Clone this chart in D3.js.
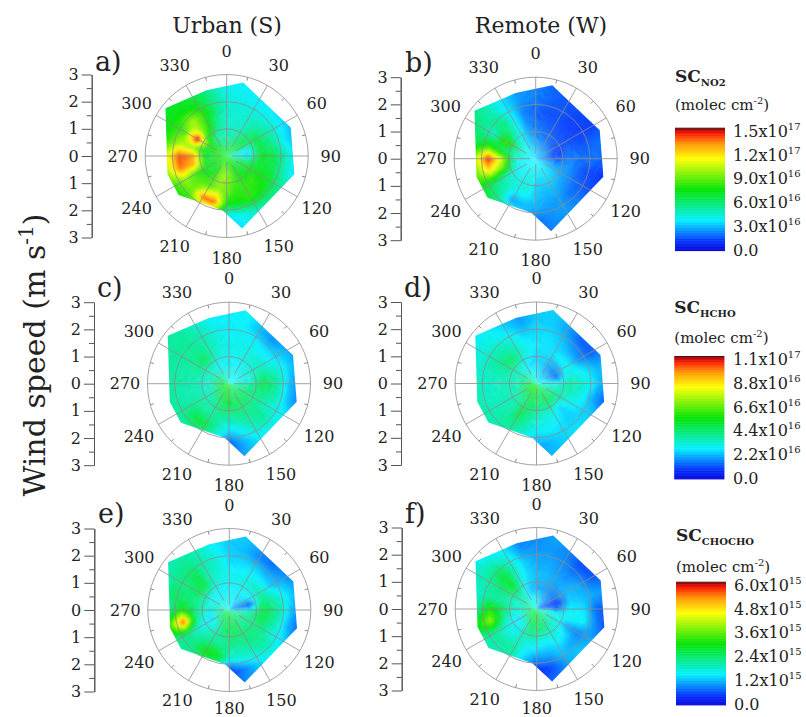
<!DOCTYPE html>
<html lang="en">
<head>
<meta charset="UTF-8">
<title>Slant columns by wind speed and direction</title>
<script src="https://d3js.org/d3.v7.min.js"></script>
<style>
  html, body { margin: 0; padding: 0; background: #fff; }
  svg { display: block; }
  text { font-family: "DejaVu Serif", serif; fill: #222; }
  .axis path, .axis line { stroke: #555; stroke-width: 1; }
  .axis text { font-family: "DejaVu Serif", serif; font-size: 16px; fill: #222; }
</style>
</head>
<body>
<svg id="chart" width="806" height="717"></svg>
<script>
// wind direction of each column and wind speed of each row in the tables below
const dirs = d3.range(0, 360, 15)
const speeds = [0.25, 0.75, 1.25, 1.75, 2.25, 2.75]

// outline of the sampled area: direction (deg), speed (m/s)
const hullDirs = [12.7, 66, 105, 168, 184.6, 231, 253, 308, 343]
const hullSpeeds = [2.77, 2.58, 2.58, 2.73, 2.0, 2.28, 2.28, 2.86, 2.53]

const spokeDirs = d3.range(0, 360, 30)
const minorDirs = d3.range(15, 360, 30)
const ringSpeeds = [1, 2, 3]

// NO2, units of 1e16 molec cm-2
const no2Urban = [
  [6.5,6.5,6.5,6.5,6,5,4.5,5.5,6.5,7,7.5,7.5,8,8,8,7.5,7.5,7.5,7.5,8,7.5,7,7,6.5],
  [5,5,5.5,6.5,6,3.5,3.5,6,7,7,7.5,8.5,9.5,9.5,8,7,7,7,6.5,7,7.5,7,5.5,5],
  [4.5,4.5,4.6,5.5,6.5,6.5,7,7,7.5,8,8,8,9,9.5,8.5,8.5,8,12.5,13,9.5,15,9.5,7.5,5.5],
  [4.5,4.4,4.4,4.6,5,5.5,6.5,6.5,7,7.5,8,7.5,7.5,13.5,13.5,9,9.5,13.5,14,10,8.5,10,8,6],
  [4.2,4,3.8,3.8,3.8,3.6,4.5,4.5,5.5,5.5,5,4,3.5,7.5,7.5,7.5,8,10,10.5,8,7.5,7.5,7,5.5],
  [3.8,3.8,3.8,3.2,2.8,2.5,3,3,4,4.5,4,3.6,3,6,7,7,7.5,9,9,7.5,7,7,6.5,5]
]
const no2Remote = [
  [3.3,3,2.8,2.8,2.8,2.5,2.6,3,3.3,3.5,3.7,3.7,3.8,3.8,3.8,3.8,3.8,3.7,3.7,3.8,3.6,3.5,3.5,3.4],
  [2.5,2.2,2,1.8,1.5,1.2,1.5,2.4,3,3.3,3.6,3.4,3.5,4.5,4,3.8,4,4.2,4.5,5,5.5,4.5,3.5,3],
  [2,1.8,1.6,1.5,1.5,1.8,2.2,2.5,2.5,2.7,3,3,3.2,4.2,4.2,4.5,5,9,10.5,6,8.5,5.5,4,2.5],
  [1.8,1.5,1.5,1.3,1.3,1.6,2,1.6,1.8,2,2.6,2.6,3,3,2.7,5,6,11.5,14.5,8,4.5,6,4,2.2],
  [2.2,1.8,1.6,1.4,1.3,1.9,2,1.3,1.5,2.2,2.6,2.4,2,3.5,5,6.2,7,9,10,6.5,5.5,5,3.5,2.5],
  [2.3,1.8,1.8,1.6,1.4,2.2,1.5,1.1,1.7,2.3,2.4,2.2,1.8,3.2,5,6.5,6.8,8.5,7.5,6.5,6,5,3.5,2.5]
]

// HCHO, units of 1e16 molec cm-2
const hchoUrban = [
  [3.2,3,2.8,2.8,2.8,3,3.5,4,4.3,4.5,4.6,4.7,5,5.2,5.2,5,5,4.8,4.8,4.6,4.3,3.8,3.5,3.3],
  [2.8,2.8,2.8,3,3.2,3,3.5,4.2,4.3,4.4,4.5,4.6,4.8,4.8,4.2,3.8,3.6,3.4,3.3,3.4,3.4,3.2,2.9,2.8],
  [3,3,3.1,3.3,3.5,4,4.8,4.2,3.9,4,4.1,4,3.8,3.9,3.8,3.7,3.9,3.6,3.6,3.7,4.1,4.6,3.7,3.2],
  [2.8,2.9,2.9,2.7,2.7,3.5,3.9,3.7,3.2,3.9,3.6,2.9,2.5,3.5,4.8,4.9,3.9,3.6,3.8,3.7,3.9,3.9,3.7,3.2],
  [2.8,2.8,2.2,1.8,2.3,2.5,2.2,2.2,2.8,2.9,2.8,2.1,1.2,2.6,3.5,3.7,3.9,3.9,3.9,3.8,3.9,3.9,3.5,2.9],
  [2.8,2.8,2.5,2,1.8,1.8,1.6,1.5,2.2,2.5,2.4,2.1,1.4,2.4,3.3,3.5,3.7,3.9,3.9,3.9,3.9,3.7,3.2,2.5]
]
const hchoRemote = [
  [3,2.6,2.4,2.4,2.6,2.8,3,3.6,4,4.4,4.6,4.8,5.2,5.2,5.2,5.2,5,5,4.8,4.4,4,3.6,3.3,3.1],
  [2.4,2.4,2.1,1.8,1.5,1.6,3,3.6,4,4.4,4.6,4.2,4.4,4.6,4.2,4,3.6,3.6,3.6,3.5,3.4,3.2,2.8,2.5],
  [2.6,2.6,2.6,2.8,3,3.2,3.8,3.6,3.2,2.4,3,3.2,3.4,4,4.8,3.6,3.6,3.5,3.5,3.6,4.2,4.4,3.6,3],
  [2.6,2.6,2.4,2,1.8,2.8,3.2,3,2.6,2.4,2.6,2.8,2.8,3.4,4,3.8,3.6,3.4,3.4,3.5,3.8,3.6,3.2,2.6],
  [2.4,2.4,2,1.3,1.3,2.2,2.4,1.8,2.4,2.6,2.5,2.2,2,2.8,3.4,3.6,3.6,3.6,3.4,3.3,3.2,3,2.6,2],
  [2.4,2.4,2.1,1.7,1.4,2.2,1.6,1.1,2,2.4,2.4,2.2,1.9,2.6,3.2,3.5,3.6,3.6,3.2,3.1,3,2.8,2.2,1.8]
]

// CHOCHO, units of 1e14 molec cm-2
const chochoUrban = [
  [16,15,14,12,10,8,16,20,22,23,24,25,26,26,26,26,24,22,20,19,18,17,17,16],
  [15,15,15,15,14,6,16,22,22,22,24,25,25,24,20,17,14,14,17,17,16,15,15,15],
  [16,16,17,18,20,23,26,26,23,23,23,22,23,21,21,20,17,22,23,22,25,26,19,17],
  [14,14,14,13,13,19,22,20,18,21,19,18,18,29,30,23,22,56,30,24,23,26,20,18],
  [13,12,9,8,11,14,13,11,14,16,14,9,5,14,20,21,22,34,20,24,22,22,20,16],
  [13,13,11,9,8,10,7,6,10,11,11,10,7,11,18,20,21,22,11,12,19,20,18,14]
]
const chochoRemote = [
  [17,14,12,11,8,6,13,18,20,22,24,25,27,27,27,25,25,23,23,21,19,17,17,17],
  [11,11,10,9,8,4,9,16,18,18,21,23,23,25,19,16,14,15,17,18,20,20,15,12],
  [12,12,11,11,12,13,15,16,11,16,16,15,17,17,19,16,17,21,25,20,24,28,18,14],
  [11,11,10,9,11,12,14,16,9,11,13,11,11,14,21,21,21,38,31,21,22,27,19,13],
  [10,10,9,6,7,11,7,9,11,13,11,6,4,11,18,19,20,30,20,18,20,20,16,10],
  [9,11,10,7,6,10,7,5,10,12,9,8,5,9,16,17,18,19,16,17,18,15,13,8]
]

// colour bar labels
const no2Ticks = [['0.0',''],['3.0','16'],['6.0','16'],['9.0','16'],['1.2','17'],['1.5','17']]
const hchoTicks = [['0.0',''],['2.2','16'],['4.4','16'],['6.6','16'],['8.8','16'],['1.1','17']]
const chochoTicks = [['0.0',''],['1.2','15'],['2.4','15'],['3.6','15'],['4.8','15'],['6.0','15']]

const no2Max = 15, hchoMax = 11, chochoMax = 60

const colourStops = [0, 0.08, 0.25, 0.5, 0.75, 0.87, 0.95, 0.985, 1]
const colourList = ['#0000d8', '#0030ff', '#00f0ff', '#00e400', '#ffff00', '#ff9800', '#ff2000', '#c00000', '#401010']

const panels = [
  {id: 'a', label: 'a)', table: no2Urban, max: no2Max, cx: 226.7, cy: 156, axisX: 91.7, lx: 95, ly: 71, southR: 102},
  {id: 'b', label: 'b)', table: no2Remote, max: no2Max, cx: 535.7, cy: 158.7, axisX: 400.7, lx: 405, ly: 72, southR: 102},
  {id: 'c', label: 'c)', table: hchoUrban, max: hchoMax, cx: 229, cy: 383.7, axisX: 94, lx: 97, ly: 297, southR: 102},
  {id: 'd', label: 'd)', table: hchoRemote, max: hchoMax, cx: 536.5, cy: 383.5, axisX: 401, lx: 404, ly: 297, southR: 102},
  {id: 'e', label: 'e)', table: chochoUrban, max: chochoMax, cx: 229.3, cy: 610, axisX: 94.3, lx: 98, ly: 523, southR: 98},
  {id: 'f', label: 'f)', table: chochoRemote, max: chochoMax, cx: 536.7, cy: 609, axisX: 401.7, lx: 405, ly: 523, southR: 99}
]

const legends = [
  {name: 'NO2', ticks: no2Ticks, max: no2Max, x: 675, top: 127.7, bottom: 250.7, titleY: 82, unitY: 110, tickX: 733, nudge: 4},
  {name: 'HCHO', ticks: hchoTicks, max: hchoMax, x: 674.3, top: 356, bottom: 479, titleY: 313, unitY: 343, tickX: 733, nudge: 4},
  {name: 'CHOCHO', ticks: chochoTicks, max: chochoMax, x: 676, top: 581.7, bottom: 705, titleY: 541, unitY: 572, tickX: 734, nudge: 4}
]

const svg = d3.select('#chart')
const defs = svg.append('defs')
defs.append('filter').attr('id', 'soft')
  .attr('x', '-5%').attr('y', '-5%').attr('width', '110%').attr('height', '110%')
  .attr('color-interpolation-filters', 'sRGB')
  .append('feGaussianBlur').attr('stdDeviation', 0.8)

const rad = d => d * Math.PI / 180
const speedPx = d3.scaleLinear().domain([0, 3]).range([0, 81.5])
const dirScale = d3.scaleLinear().domain([0, 360]).range([0, 2 * Math.PI])

// read the table at any direction/speed from its four neighbouring entries
function lookup(table, dir, speed) {
  const a = ((dir % 360) + 360) % 360 / 15
  const a0 = Math.floor(a) % 24, a1 = (a0 + 1) % 24, ta = a - Math.floor(a)
  const s = Math.max(0, Math.min(speeds.length - 1.001, (speed - speeds[0]) / 0.5))
  const s0 = Math.floor(s), s1 = s0 + 1, ts = s - s0
  const low = table[s0][a0] * (1 - ta) + table[s0][a1] * ta
  const high = table[s1][a0] * (1 - ta) + table[s1][a1] * ta
  return low * (1 - ts) + high * ts
}

const cellDirs = d3.range(0, 360, 3)
const cellSpeeds = d3.range(0, 2.9, 0.1)
const cells = d3.cross(cellDirs, cellSpeeds)
const cellArc = d3.arc()
  .startAngle(d => dirScale(d[0]))
  .endAngle(d => dirScale(d[0] + 3.1))
  .innerRadius(d => speedPx(d[1]))
  .outerRadius(d => speedPx(d[1] + 0.11))

const hullLine = d3.lineRadial()
  .angle(d => dirScale(d[0]))
  .radius(d => speedPx(d[1]))
  .curve(d3.curveLinearClosed)

panels.forEach(p => {
  const colour = d3.scaleLinear()
    .domain(colourStops.map(f => f * p.max))
    .range(colourList)
    .clamp(true)

  defs.append('clipPath').attr('id', 'hull-' + p.id)
    .append('path').attr('d', hullLine(d3.zip(hullDirs, hullSpeeds)))

  const g = svg.append('g').attr('transform', `translate(${p.cx},${p.cy})`)

  g.append('g').attr('clip-path', `url(#hull-${p.id})`)
    .append('g').attr('filter', 'url(#soft)')
    .selectAll('path').data(cells).join('path')
    .attr('d', cellArc)
    .attr('fill', d => colour(lookup(p.table, d[0] + 1.5, d[1] + 0.05)))

  // polar grid
  g.selectAll('circle').data(ringSpeeds).join('circle')
    .attr('r', d => speedPx(d))
    .attr('fill', 'none').attr('stroke', '#8c8c8c').attr('stroke-opacity', 0.8).attr('stroke-width', 1)

  g.selectAll('line.spoke').data(spokeDirs).join('line')
    .attr('class', 'spoke')
    .attr('x1', d => speedPx(d % 90 === 0 ? 0.2 : 0.4) * Math.sin(rad(d)))
    .attr('y1', d => -speedPx(d % 90 === 0 ? 0.2 : 0.4) * Math.cos(rad(d)))
    .attr('x2', d => speedPx(3) * Math.sin(rad(d)))
    .attr('y2', d => -speedPx(3) * Math.cos(rad(d)))
    .attr('stroke', '#8c8c8c').attr('stroke-opacity', 0.8).attr('stroke-width', 1)

  g.selectAll('line.minor').data(minorDirs).join('line')
    .attr('class', 'minor')
    .attr('x1', d => speedPx(2.87) * Math.sin(rad(d)))
    .attr('y1', d => -speedPx(2.87) * Math.cos(rad(d)))
    .attr('x2', d => speedPx(3) * Math.sin(rad(d)))
    .attr('y2', d => -speedPx(3) * Math.cos(rad(d)))
    .attr('stroke', '#8c8c8c').attr('stroke-width', 1)

  g.selectAll('text.dir').data(spokeDirs).join('text')
    .attr('class', 'dir')
    .attr('x', d => 104 * Math.sin(rad(d)))
    .attr('y', d => -(d === 180 ? p.southR : 105) * Math.cos(rad(d)))
    .attr('text-anchor', 'middle')
    .attr('dominant-baseline', 'central')
    .attr('font-size', 16)
    .text(d => d)

  // speed axis, 3 at both ends
  const axisScale = d3.scaleLinear().domain([3, -3]).range([p.cy - 81.5, p.cy + 81.5])
  svg.append('g').attr('class', 'axis')
    .attr('transform', `translate(${p.axisX},0)`)
    .call(d3.axisLeft(axisScale).tickValues(d3.range(-2.5, 3, 1)).tickSize(5).tickFormat('').tickSizeOuter(0))
  svg.append('g').attr('class', 'axis')
    .attr('transform', `translate(${p.axisX},0)`)
    .call(d3.axisLeft(axisScale).tickValues(d3.range(-3, 4, 1)).tickSize(10).tickSizeOuter(0).tickFormat(d => Math.abs(d)))

  svg.append('text').attr('x', p.lx).attr('y', p.ly)
    .attr('font-size', 27).text(p.label)
})

// column headers and shared axis title
svg.append('text').attr('x', 227).attr('y', 33).attr('text-anchor', 'middle').attr('font-size', 22).text('Urban (S)')
svg.append('text').attr('x', 541).attr('y', 33).attr('text-anchor', 'middle').attr('font-size', 22).text('Remote (W)')

const yTitle = svg.append('text')
  .attr('transform', 'translate(45,355) rotate(-90)')
  .attr('text-anchor', 'middle')
  .attr('font-size', 30)
yTitle.append('tspan').text('Wind speed (m s')
yTitle.append('tspan').attr('dy', -12).attr('font-size', 20).text('-1')
yTitle.append('tspan').attr('dy', 12).text(')')

legends.forEach(l => {
  const frac = d3.range(0, 1, 0.005)
  const bar = d3.scaleLinear().domain([0, 1]).range([l.bottom, l.top])
  const colour = d3.scaleLinear().domain(colourStops).range(colourList)

  svg.append('g').selectAll('rect').data(frac).join('rect')
    .attr('x', l.x).attr('width', 50)
    .attr('y', d => bar(d + 0.005))
    .attr('height', d => bar(d) - bar(d + 0.005) + 0.4)
    .attr('fill', d => colour(d + 0.0025))

  const title = svg.append('text').attr('x', l.x).attr('y', l.titleY)
    .attr('font-size', 17).attr('font-weight', 'bold')
  title.append('tspan').text('SC')
  title.append('tspan').attr('dy', 4).attr('font-size', 10).text(l.name)

  const unit = svg.append('text').attr('x', l.x).attr('y', l.unitY).attr('font-size', 15)
  unit.append('tspan').text('(molec cm')
  unit.append('tspan').attr('dy', -6).attr('font-size', 10).text('-2')
  unit.append('tspan').attr('dy', 6).text(')')

  const tickY = d3.scaleLinear().domain([0, l.ticks.length - 1]).range([l.bottom, l.top + l.nudge])
  svg.append('g').selectAll('text').data(l.ticks).join('text')
    .attr('x', l.tickX)
    .attr('y', (d, i) => tickY(i) + 5)
    .attr('font-size', 16)
    .each(function (d) {
      const t = d3.select(this)
      if (d[1] === '') { t.text(d[0]); return }
      t.append('tspan').text(d[0] + 'x10')
      t.append('tspan').attr('dy', -7).attr('font-size', 10).text(d[1])
    })
})
</script>
</body>
</html>
